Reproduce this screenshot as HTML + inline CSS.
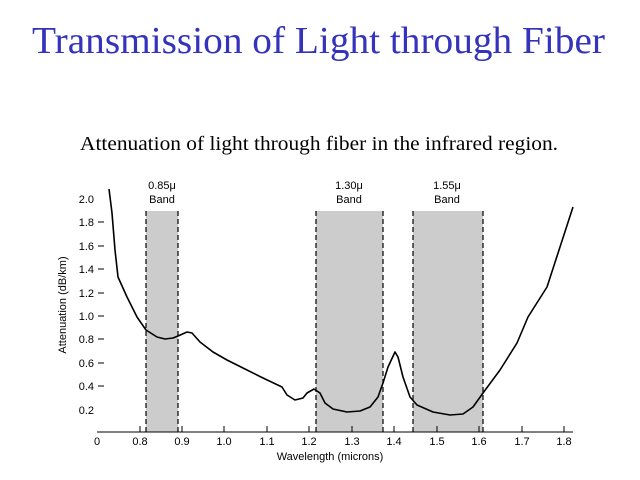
<!DOCTYPE html>
<html><head><meta charset="utf-8"><style>html,body{margin:0;padding:0;background:#fff}svg{display:block}</style></head>
<body>
<svg width="640" height="480" xmlns="http://www.w3.org/2000/svg">
<text x="32" y="53" font-family="Liberation Serif, serif" font-size="38" fill="#3333bb" textLength="573" lengthAdjust="spacingAndGlyphs">Transmission of Light through Fiber</text>
<text x="80" y="150" font-family="Liberation Serif, serif" font-size="20" fill="#000" textLength="478" lengthAdjust="spacingAndGlyphs">Attenuation of light through fiber in the infrared region.</text>
<g fill="#cccccc">
<rect x="146" y="211" width="32" height="221"/>
<rect x="316" y="211" width="67" height="221"/>
<rect x="413" y="211" width="70" height="221"/>
</g>
<g stroke="#000" stroke-width="1.2" stroke-dasharray="5,3">
<line x1="146" y1="211" x2="146" y2="432"/><line x1="178" y1="211" x2="178" y2="432"/>
<line x1="316" y1="211" x2="316" y2="432"/><line x1="383" y1="211" x2="383" y2="432"/>
<line x1="413" y1="211" x2="413" y2="432"/><line x1="483" y1="211" x2="483" y2="432"/>
</g>
<g font-family="Liberation Sans, sans-serif" font-size="11" fill="#000" text-anchor="middle">
<text x="162" y="189">0.85μ</text><text x="162" y="203">Band</text>
<text x="349" y="189">1.30μ</text><text x="349" y="203">Band</text>
<text x="447" y="189">1.55μ</text><text x="447" y="203">Band</text>
</g>
<line x1="97" y1="432" x2="573" y2="432" stroke="#000" stroke-width="1"/>
<g stroke="#000" stroke-width="1">
<line x1="140" y1="426" x2="140" y2="432"/><line x1="182" y1="426" x2="182" y2="432"/>
<line x1="224" y1="426" x2="224" y2="432"/><line x1="267" y1="426" x2="267" y2="432"/>
<line x1="309" y1="426" x2="309" y2="432"/><line x1="352" y1="426" x2="352" y2="432"/>
<line x1="394" y1="426" x2="394" y2="432"/><line x1="437" y1="426" x2="437" y2="432"/>
<line x1="479" y1="426" x2="479" y2="432"/><line x1="522" y1="426" x2="522" y2="432"/>
<line x1="564" y1="426" x2="564" y2="432"/>
<line x1="98" y1="222" x2="104" y2="222"/><line x1="98" y1="246" x2="104" y2="246"/>
<line x1="98" y1="269" x2="104" y2="269"/><line x1="98" y1="293" x2="104" y2="293"/>
<line x1="98" y1="316" x2="104" y2="316"/><line x1="98" y1="339" x2="104" y2="339"/>
<line x1="98" y1="363" x2="104" y2="363"/><line x1="98" y1="386" x2="104" y2="386"/>
</g>
<g font-family="Liberation Sans, sans-serif" font-size="11" fill="#000" text-anchor="middle">
<text x="97" y="445">0</text><text x="140" y="445">0.8</text><text x="182" y="445">0.9</text>
<text x="224" y="445">1.0</text><text x="267" y="445">1.1</text><text x="309" y="445">1.2</text>
<text x="352" y="445">1.3</text><text x="394" y="445">1.4</text><text x="437" y="445">1.5</text>
<text x="479" y="445">1.6</text><text x="522" y="445">1.7</text><text x="564" y="445">1.8</text>
<text x="330" y="460">Wavelength (microns)</text>
</g>
<g font-family="Liberation Sans, sans-serif" font-size="11" fill="#000" text-anchor="end">
<text x="94" y="203">2.0</text><text x="94" y="226">1.8</text><text x="94" y="250">1.6</text>
<text x="94" y="273">1.4</text><text x="94" y="297">1.2</text><text x="94" y="320">1.0</text>
<text x="94" y="343">0.8</text><text x="94" y="367">0.6</text><text x="94" y="390">0.4</text>
<text x="94" y="414">0.2</text>
</g>
<text transform="translate(66,305) rotate(-90)" font-family="Liberation Sans, sans-serif" font-size="11" text-anchor="middle">Attenuation (dB/km)</text>
<polyline fill="none" stroke="#000" stroke-width="1.6" stroke-linejoin="round" points="109,189 112,213 115,250 118,277 127,297 137,317 146,330 157,337 165,339 173,338 178,336 187,332 192,333 200,342 213,352 227,360 243,368 263,378 282,387 287,395 295,400 303,398 307,393 314,389 320,393 325,403 333,409 347,412 360,411 370,407 378,397 383,383 388,367 395,352 398,357 403,377 410,397 417,405 433,412 450,415 463,414 473,407 483,393 500,370 517,343 528,317 547,287 560,247 573,207"/>
</svg>
</body></html>
